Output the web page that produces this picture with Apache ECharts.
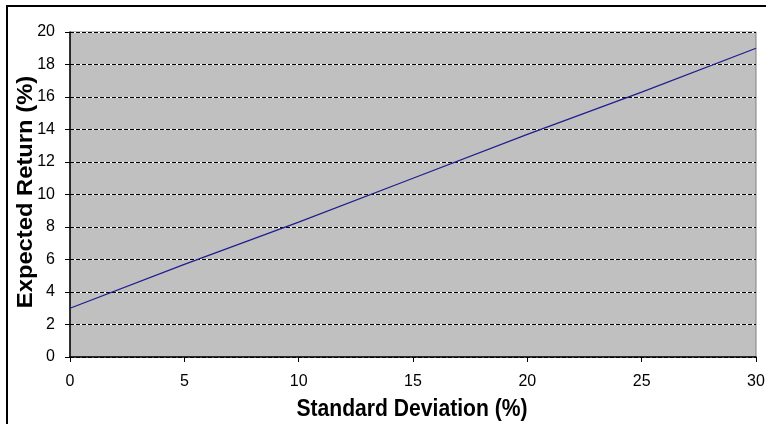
<!DOCTYPE html>
<html><head><meta charset="utf-8">
<script src="https://cdn.jsdelivr.net/npm/echarts@6/dist/echarts.min.js"></script>
<style>html,body{margin:0;padding:0;background:#fff}#c{width:770px;height:424px}</style>
</head><body><div id="c"></div>
<script>
const stdDev = [0, 5, 10, 15, 20, 25, 30];
const expReturn = [3.0, 5.7, 8.3, 11.0, 13.7, 16.3, 19.0];
const xTitle = 'Standard Deviation (%)';
const yTitle = 'Expected Return (%)';

const chart = echarts.init(document.getElementById('c'));
const font = 'Liberation Sans, Arial, sans-serif';
chart.setOption({
  animation: false,
  grid: {left: 70, right: 14, top: 32, bottom: 67, show: true, backgroundColor: '#c0c0c0', borderColor: '#808080', borderWidth: 1},
  graphic: [
    {type: 'line', shape: {x1: 6, y1: 6, x2: 766, y2: 6}, style: {stroke: '#000', lineWidth: 2}, z: 100},
    {type: 'line', shape: {x1: 7, y1: 6, x2: 7, y2: 424}, style: {stroke: '#000', lineWidth: 2}, z: 100},
    {type: 'text', x: 412, y: 409, scaleX: 0.88, z: 100,
     style: {text: xTitle, font: 'bold 24px ' + font, fill: '#000', textAlign: 'center', textVerticalAlign: 'middle'}},
    {type: 'text', x: 26, y: 192, rotation: Math.PI / 2, scaleX: 1.08, z: 100,
     style: {text: yTitle, font: 'bold 22px ' + font, fill: '#000', textAlign: 'center', textVerticalAlign: 'middle'}}
  ],
  xAxis: {
    type: 'value', min: 0, max: 30, interval: 5,
    axisLine: {show: true, lineStyle: {color: '#000', width: 1.5}},
    axisTick: {show: true, length: 5, lineStyle: {color: '#000'}},
    axisLabel: {fontFamily: font, fontSize: 16, color: '#000', margin: 17},
    splitLine: {show: false}
  },
  yAxis: [{
    type: 'value', min: 0, max: 20, interval: 2,
    axisLine: {show: true, lineStyle: {color: '#000', width: 1.5}},
    axisTick: {show: true, length: 5, lineStyle: {color: '#000'}},
    axisLabel: {fontFamily: font, fontSize: 16, color: '#000', margin: 15},
    splitLine: {show: true, lineStyle: {color: '#fff', width: 1, type: 'solid'}}
  }, {
    type: 'value', min: 0, max: 20, interval: 2, position: 'left',
    axisLine: {show: false}, axisTick: {show: false}, axisLabel: {show: false},
    splitLine: {show: true, lineStyle: {color: '#000', width: 1, type: [4, 2]}}
  }],
  series: [{
    type: 'line', data: stdDev.map((x, i) => [x, expReturn[i]]),
    symbol: 'none', lineStyle: {color: '#1f1f8f', width: 1.3}, z: 5
  }]
});
</script></body></html>
